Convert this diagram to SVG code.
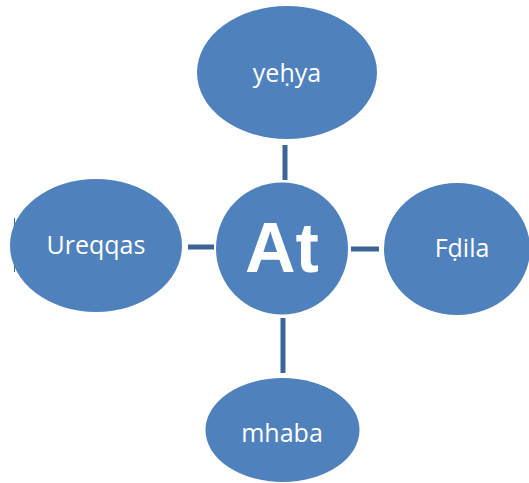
<svg xmlns="http://www.w3.org/2000/svg" width="529" height="483" viewBox="0 0 529 483">
<style>
.node{fill:#4F81BD;}
.lbl{fill:#FFFFFF;font-family:"Open Sans","Liberation Sans",sans-serif;font-size:25px;text-anchor:middle;}
.big{fill:#FFFFFF;font-family:"Liberation Sans","Open Sans",sans-serif;font-size:70px;font-weight:bold;text-anchor:middle;}
.conn{stroke:#3C6595;stroke-width:5;fill:none;}
</style>
<rect width="529" height="483" fill="#FFFFFF"/>
<g id="connectors">
<line class="conn" x1="285" y1="145" x2="285" y2="180"/>
<line class="conn" x1="188" y1="247" x2="214" y2="247"/>
<line class="conn" x1="351" y1="249" x2="379" y2="249"/>
<line class="conn" x1="283" y1="318" x2="283" y2="373"/>
</g>
<line x1="14.5" y1="218" x2="14.5" y2="272" stroke="#3C6595" stroke-width="1"/>
<g id="node-top">
<ellipse class="node" cx="287" cy="72.5" rx="90" ry="66.5"/>
<text class="lbl" x="287" y="82">yeḥya</text>
</g>
<g id="node-left">
<ellipse class="node" cx="96" cy="245.5" rx="86" ry="66.5"/>
<text class="lbl" x="96" y="254">Ureqqas</text>
</g>
<g id="node-right">
<ellipse class="node" cx="457" cy="249" rx="73" ry="66"/>
<text class="lbl" x="462" y="257">Fḍila</text>
</g>
<g id="node-bottom">
<ellipse class="node" cx="282.5" cy="430" rx="77" ry="52"/>
<text class="lbl" x="282" y="442">mhaba</text>
</g>
<g id="node-center">
<circle class="node" cx="282" cy="248.5" r="66"/>
<text class="big" x="282" y="272">At</text>
</g>
</svg>
